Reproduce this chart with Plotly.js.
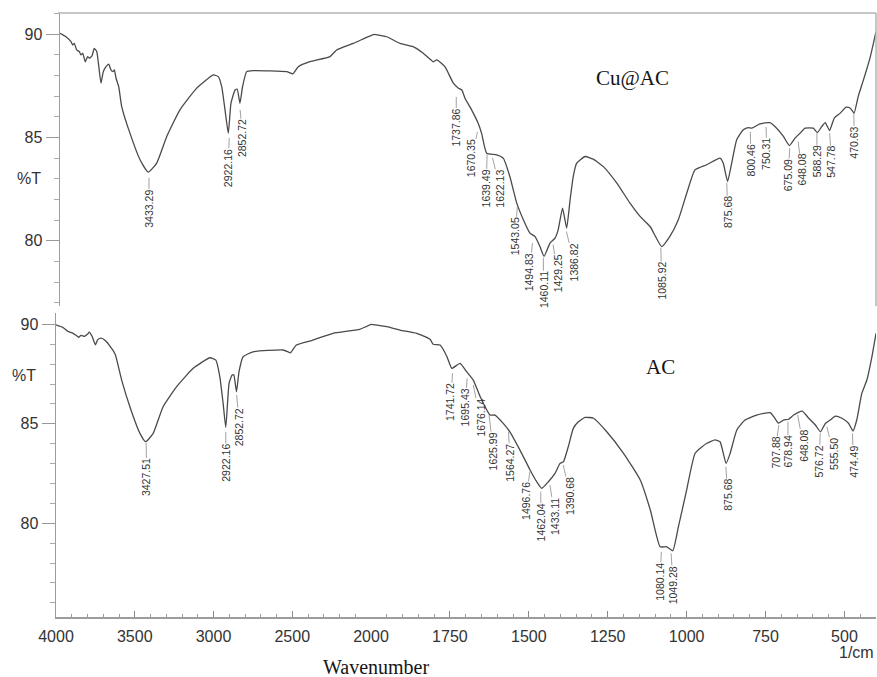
<!DOCTYPE html>
<html><head><meta charset="utf-8">
<script src="https://cdn.plot.ly/plotly-3.0.1.min.js"></script>
<style>html,body{margin:0;padding:0;background:#fff}#chart{width:877px;height:677px}</style>
</head><body><div id="chart"></div>
<script>
// ---------- DATA ----------
const cuWavenumber = [4000,3962,3930,3919,3909,3894,3877,3866,3855,3839,3824,3813,3796,3782,3766,3754,3739,3724,3707,3690,3675,3664,3654,3643,3626,3607,3554,3490,3438,3384,3320,3236,3129,3023,2992,2970,2949,2928,2911,2885,2871,2854,2837,2811,2769,2556,2518,2482,2408,2280,2238,2132,2047,2000,1960,1917,1875,1843,1811,1800,1774,1747,1731,1720,1710,1689,1668,1657,1641,1609,1588,1567,1545,1524,1503,1487,1471,1458,1439,1423,1413,1399,1386,1375,1365,1354,1327,1301,1269,1226,1184,1152,1120,1083,1057,1030,1003,977,940,897,887,873,860,844,823,807,796,770,738,722,695,676,658,642,626,600,587,573,562,548,533,514,495,482,470,456,440,418,400];
const cuTransmittance = [90.05,89.88,89.64,89.48,89.56,89.24,89.16,89.0,89.08,88.67,88.92,88.84,88.96,89.32,89.16,88.51,87.63,88.19,88.43,88.55,88.27,88.19,88.27,87.87,87.46,86.5,85.2,83.92,83.32,83.76,85.05,86.34,87.39,88.03,87.95,87.46,86.34,85.2,86.66,87.3,87.34,86.66,87.47,88.19,88.24,88.19,88.08,88.43,88.67,88.92,89.24,89.56,89.85,90.0,89.88,89.56,89.4,89.08,88.67,88.76,88.43,87.63,87.39,87.3,86.9,86.34,85.69,85.2,84.24,84.16,84.0,83.11,81.82,81.02,80.37,80.21,79.72,79.24,79.89,80.13,80.53,81.58,80.61,81.98,83.11,83.76,84.08,83.95,83.59,82.79,81.82,81.18,80.69,79.72,80.21,81.02,82.31,83.43,83.68,84.0,83.76,82.87,83.76,84.89,85.37,85.48,85.45,85.66,85.72,85.53,85.05,84.61,84.97,85.21,85.45,85.45,85.24,85.53,85.72,85.34,85.94,86.18,86.47,86.42,86.18,87.03,87.79,88.92,90.13];

const acWavenumber = [4000,3957,3926,3894,3873,3856,3841,3820,3799,3789,3771,3750,3735,3714,3693,3672,3657,3640,3623,3583,3531,3467,3431,3383,3320,3235,3129,3023,2985,2960,2939,2922,2901,2882,2871,2854,2838,2812,2749,2559,2527,2512,2474,2368,2241,2072,2000,1950,1908,1855,1813,1803,1781,1760,1744,1718,1697,1676,1654,1623,1607,1581,1560,1528,1496,1475,1459,1438,1417,1401,1390,1375,1359,1343,1322,1295,1253,1200,1147,1115,1084,1063,1044,1026,1000,973,936,910,894,875,862,841,815,778,735,724,709,693,677,661,634,613,592,576,560,545,529,508,487,473,461,445,429,413,400];
const acTransmittance = [89.98,89.85,89.65,89.56,89.45,89.35,89.45,89.4,89.51,89.61,89.4,88.97,89.23,89.31,89.23,89.06,88.89,88.72,88.47,87.2,85.86,84.52,84.1,84.52,85.86,86.86,87.79,88.32,88.2,87.37,86.03,84.82,87.04,87.45,87.45,86.61,87.62,88.37,88.62,88.71,88.62,88.57,88.96,89.21,89.55,89.75,90.0,89.88,89.71,89.55,89.25,89.0,88.96,88.4,87.79,88.04,87.62,87.2,86.36,85.44,85.44,85.02,84.6,83.68,82.68,82.09,81.76,82.09,82.51,83.01,83.1,83.85,84.77,85.1,85.32,85.28,84.6,83.52,82.18,80.67,78.82,78.82,78.62,79.83,81.67,83.52,84.02,84.19,84.1,83.01,83.52,84.69,85.19,85.44,85.56,85.36,85.03,85.19,85.23,85.44,85.64,85.28,84.94,84.6,85.03,85.19,85.39,85.28,85.03,84.64,85.19,86.53,87.2,88.37,89.55];

const cuPeakLabels = ['3433.29','2922.16','2852.72','1737.86','1670.35','1639.49','1622.13','1543.05','1494.83','1460.11','1429.25','1386.82','1085.92','875.68','800.46','750.31','675.09','648.08','588.29','547.78','470.63'];
const cuPeakT = [83.05,84.98,86.34,86.97,85.27,84.16,84.02,81.66,79.89,79.18,79.81,80.45,79.66,82.81,85.27,85.52,84.48,84.8,85.21,85.21,86.18];

const acPeakLabels = ['3427.51','2922.16','2852.72','1741.72','1695.43','1676.14','1625.99','1564.27','1496.76','1462.04','1433.11','1390.68','1080.14','1049.28','875.68','707.88','678.94','648.08','576.72','555.50','474.49'];
const acPeakT = [84.04,84.59,86.45,87.54,87.29,86.95,85.44,84.6,82.6,81.59,81.92,82.93,78.57,78.49,82.84,84.94,85.11,85.44,84.52,84.85,84.52];

const highTicks = [4000,3500,3000,2500,2000];
const lowTicks = [1750,1500,1250,1000,750,500];
const yTicks = [80,85,90];
const seriesNames = ['Cu@AC','AC'];

// ---------- LABEL OFFSETS (pixels, styling only) ----------
const cuLabelDx = [0,-1,2.6,0,-5.7,-1,7.4,-2.4,-3.2,0,4.6,7.6,1,1,0.6,0.6,-1.4,3.5,0,2,0.5];
const cuLabelDy = [31,30,28.5,30.5,26.5,33.5,31,29.8,29,32,29,31,33,29.5,28.5,27.5,26.7,28.3,28.2,29,29.2];
const acLabelDx = [0.5,0,2.6,-1.8,-2,6.8,4.3,1.5,-3.8,0,5,6.7,-1.3,2.2,1.8,-3.8,0,5.6,-1,6.4,0.8];
const acLabelDy = [34.5,31,32,29,29,32.5,36,31,29.3,31,31,31,30,31.7,28.3,27.5,29.8,30.5,28,26.8,28.2];

// ---------- BUILD ----------
const L = 56, T = 13, R = 876, B = 617;
const PX = x => (x - L) / (R - L);
const PY = y => (B - y) / (B - T);

function split(wn, t, hi) {
  const xs = [], ys = [];
  wn.forEach((w, i) => { if (hi ? w >= 2000 : w <= 2000) { xs.push(w); ys.push(t[i]); } });
  return {x: xs, y: ys};
}
const lineStyle = {color: '#4a4a4a', width: 1.3, shape: 'spline', smoothing: 0.45};
const cuHi = split(cuWavenumber, cuTransmittance, true), cuLo = split(cuWavenumber, cuTransmittance, false);
const acHi = split(acWavenumber, acTransmittance, true), acLo = split(acWavenumber, acTransmittance, false);

const traces = [
  {x: cuHi.x, y: cuHi.y, xaxis: 'x3', yaxis: 'y2', mode: 'lines', line: lineStyle, name: seriesNames[0]},
  {x: cuLo.x, y: cuLo.y, xaxis: 'x4', yaxis: 'y2', mode: 'lines', line: lineStyle, name: seriesNames[0]},
  {x: acHi.x, y: acHi.y, xaxis: 'x', yaxis: 'y', mode: 'lines', line: lineStyle, name: seriesNames[1]},
  {x: acLo.x, y: acLo.y, xaxis: 'x2', yaxis: 'y', mode: 'lines', line: lineStyle, name: seriesNames[1]}
];

const axisGray = '#9c9c9c';
const sans = 'Liberation Sans, Arial, sans-serif';
const tickFont = {family: sans, size: 16, color: '#333'};
const labelFont = {family: sans, size: 10.5, color: '#333'};

function xAxisBottom(domain, range, tickvals, minorDtick) {
  return {domain, range, anchor: 'y', showline: true, linecolor: axisGray, linewidth: 1.5,
    ticks: 'inside', ticklen: 6, tickcolor: '#888', tickwidth: 1,
    tickmode: 'array', tickvals: tickvals, ticktext: tickvals.map(String), tickfont: tickFont,
    ticklabelstandoff: 4,
    minor: {ticks: 'inside', ticklen: 3, tickcolor: '#999', dtick: minorDtick, tick0: 0, showgrid: false},
    showgrid: false, zeroline: false, fixedrange: true};
}
function yAxis(domain, range, anchor) {
  return {domain, range, anchor, showline: true, linecolor: axisGray, linewidth: 1.5,
    ticks: 'outside', ticklen: 13, tickcolor: '#999', tickwidth: 1,
    tickmode: 'array', tickvals: yTicks, ticktext: yTicks.map(String), tickfont: tickFont,
    minor: {ticks: 'outside', ticklen: 5, tickcolor: '#aaa', dtick: 1, tick0: 0, showgrid: false},
    showgrid: false, zeroline: false, fixedrange: true};
}
function hiddenX(domain, range) {
  return {domain, range, anchor: 'y2', visible: false, fixedrange: true};
}

const annotations = [];
function addPeaks(labels, tvals, dx, dy, xHi, xLo, yref) {
  labels.forEach((lab, i) => {
    const w = parseFloat(lab);
    annotations.push({x: w, y: tvals[i], xref: w >= 2000 ? xHi : xLo, yref: yref,
      text: lab, textangle: -90, font: labelFont, showarrow: true, arrowhead: 0,
      arrowwidth: 0.8, arrowcolor: '#8a8a8a', ax: dx[i], ay: dy[i], standoff: 0,
      borderpad: 0});
  });
}
addPeaks(cuPeakLabels, cuPeakT, cuLabelDx, cuLabelDy, 'x3', 'x4', 'y2');
addPeaks(acPeakLabels, acPeakT, acLabelDx, acLabelDy, 'x', 'x2', 'y');

const serif = 'Liberation Serif, Times New Roman, serif';
function paperText(px, py, text, font) {
  return {xref: 'paper', yref: 'paper', x: PX(px), y: PY(py), xanchor: 'center', yanchor: 'middle',
    text: text, showarrow: false, font: font};
}
annotations.push(
  paperText(632, 78, seriesNames[0], {family: serif, size: 21, color: '#151515'}),
  paperText(660, 367, seriesNames[1], {family: serif, size: 21, color: '#151515'}),
  paperText(29, 179, '%T', {family: sans, size: 16, color: '#333'}),
  paperText(24, 375, '%T', {family: sans, size: 16, color: '#333'}),
  paperText(856, 652, '1/cm', {family: sans, size: 16, color: '#333'}),
  paperText(376, 667, 'Wavenumber', {family: serif, size: 20, color: '#151515'})
);

const layout = {
  width: 877, height: 677,
  margin: {l: L, r: 877 - R, t: T, b: 677 - B, pad: 0},
  paper_bgcolor: '#fff', plot_bgcolor: 'rgba(0,0,0,0)',
  showlegend: false, hovermode: false,
  xaxis: xAxisBottom([0, PX(371)], [4000, 2000], highTicks, 100),
  xaxis2: xAxisBottom([PX(371), 1], [2000, 400], lowTicks, 50),
  yaxis: yAxis([0, PY(313)], [75.29, 90.57], 'x'),
  xaxis3: hiddenX([PX(60), PX(374)], [4000, 2000]),
  xaxis4: hiddenX([PX(374), 1], [2000, 400]),
  yaxis2: yAxis([PY(306), 1], [76.84, 91.03], 'x3'),
  annotations: annotations,
  shapes: [
    {type: 'line', xref: 'paper', yref: 'paper', x0: PX(58), x1: 1, y0: 1, y1: 1, line: {color: '#b5b5b5', width: 1.5}},
    {type: 'line', xref: 'paper', yref: 'paper', x0: 1, x1: 1, y0: PY(306), y1: 1, line: {color: '#b5b5b5', width: 1.5}}
  ]
};

Plotly.newPlot('chart', traces, layout, {displayModeBar: false, staticPlot: true});
</script>
</body></html>
